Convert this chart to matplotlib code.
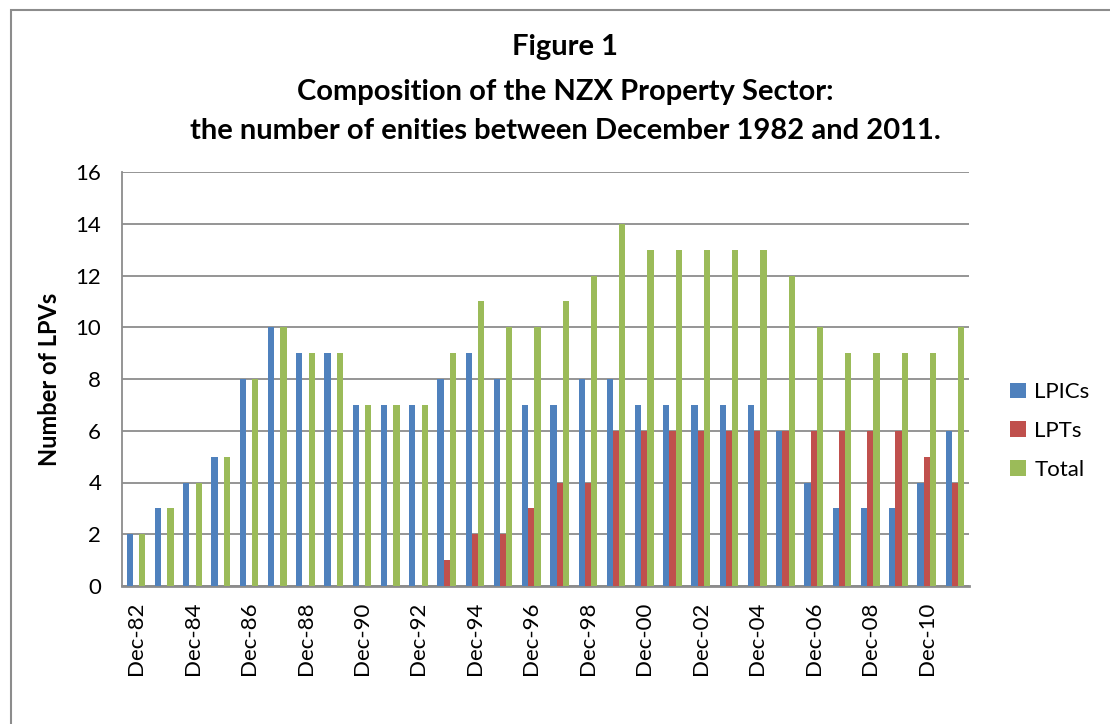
import matplotlib
matplotlib.use("Agg")
import matplotlib.pyplot as plt
import numpy as np
from matplotlib.patches import Rectangle, Patch

plt.rcParams['font.family'] = ['Lato', 'DejaVu Sans']

years = ["Dec-82", "Dec-83", "Dec-84", "Dec-85", "Dec-86", "Dec-87", "Dec-88", "Dec-89",
         "Dec-90", "Dec-91", "Dec-92", "Dec-93", "Dec-94", "Dec-95", "Dec-96", "Dec-97",
         "Dec-98", "Dec-99", "Dec-00", "Dec-01", "Dec-02", "Dec-03", "Dec-04", "Dec-05",
         "Dec-06", "Dec-07", "Dec-08", "Dec-09", "Dec-10", "Dec-11"]
lpics = [2, 3, 4, 5, 8, 10, 9, 9, 7, 7, 7, 8, 9, 8, 7, 7, 8, 8, 7, 7, 7, 7, 7, 6, 4, 3, 3, 3, 4, 6]
lpts = [0, 0, 0, 0, 0, 0, 0, 0, 0, 0, 0, 1, 2, 2, 3, 4, 4, 6, 6, 6, 6, 6, 6, 6, 6, 6, 6, 6, 5, 4]
total = [2, 3, 4, 5, 8, 10, 9, 9, 7, 7, 7, 9, 11, 10, 10, 11, 12, 14, 13, 13, 13, 13, 13, 12, 10, 9, 9, 9, 9, 10]
series_names = ["LPICs", "LPTs", "Total"]
colors = ["#4F81BD", "#C0504D", "#9BBB59"]

W, H = 1110, 724
fig = plt.figure(figsize=(W / 100, H / 100), dpi=100)
ax = fig.add_axes([122 / W, 1 - 586 / H, (969 - 122) / W, (586 - 172) / H])

x = np.arange(len(years))
bw = 0.22
for i, (vals, c) in enumerate(zip([lpics, lpts, total], colors)):
    ax.bar(x + (i - 1) * bw, vals, width=bw, color=c, edgecolor='none', zorder=3, label=series_names[i])

ax.set_xlim(-0.5, len(years) - 0.5)
ax.set_ylim(0, 16)
ax.set_yticks(np.arange(0, 17, 2))
ax.yaxis.grid(True, color='#8C8C8C', linewidth=1.3, zorder=0)
ax.set_axisbelow(True)
for s in ['top', 'right']:
    ax.spines[s].set_visible(False)
ax.spines['left'].set_color('#8C8C8C')
ax.spines['left'].set_linewidth(1.3)
ax.spines['bottom'].set_color('#8C8C8C')
ax.spines['bottom'].set_linewidth(2)

ax.set_xticks(x[::2])
ax.set_xticklabels(years[::2], rotation=90, fontsize=16)
ax.tick_params(axis='x', length=0, pad=11)
ax.tick_params(axis='y', length=0, pad=15, labelsize=16)
ax.set_ylabel("Number of LPVs", fontsize=17, fontweight='bold', labelpad=10)

fig.text(565 / W, 1 - 47 / H, "Figure 1", ha='center', va='center', fontsize=21, fontweight='bold')
fig.text(565 / W, 1 - 92 / H, "Composition of the NZX Property Sector:", ha='center', va='center',
         fontsize=21, fontweight='bold')
fig.text(565 / W, 1 - 131 / H, "the number of enities between December 1982 and 2011.", ha='center',
         va='center', fontsize=21, fontweight='bold')

# outer frame (cropped on right and bottom)
fig.patches.append(Rectangle((11 / W, -0.05), 1.2, 1 - 10 / H + 0.05, transform=fig.transFigure,
                             fill=False, edgecolor='#8C8C8C', linewidth=1.5))

handles = [Patch(facecolor=c, edgecolor='none') for c in colors]
fig.legend(handles, series_names, loc='center left', bbox_to_anchor=(1010 / W, 1 - 431 / H),
           frameon=False, fontsize=16, handlelength=0.7, handleheight=0.7, handletextpad=0.4,
           labelspacing=0.85, borderpad=0, borderaxespad=0)

fig.savefig("out.png", dpi=100)
